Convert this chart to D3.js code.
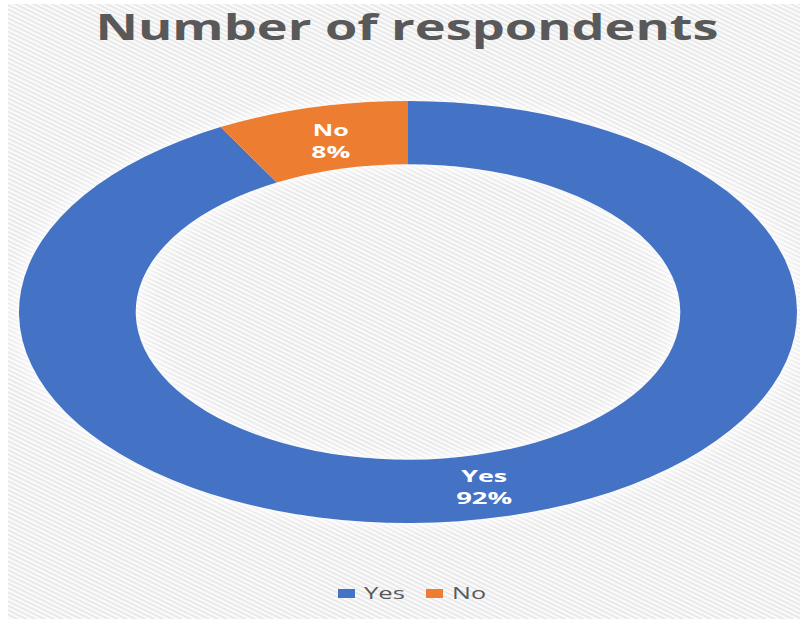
<!DOCTYPE html>
<html>
<head>
<meta charset="utf-8">
<script src="https://cdn.jsdelivr.net/npm/d3@7"></script>
<style>
  html, body { margin: 0; padding: 0; background: #ffffff; }
  svg { display: block; }
</style>
</head>
<body>
<svg id="chart" width="800" height="619"></svg>
<script>
// Survey answers
const categories = ["Yes", "No"];
const values = [92, 8];
const percentLabels = ["92%", "8%"];
const colors = ["#4472C4", "#ED7D31"];
const title = "Number of respondents";

const svg = d3.select("#chart");
const W = 800, H = 619;

// Striped chart-area background
const defs = svg.append("defs");
const pat = defs.append("pattern")
  .attr("id", "stripes")
  .attr("patternUnits", "userSpaceOnUse")
  .attr("width", 20).attr("height", 4)
  .attr("patternTransform", "rotate(26)");
pat.append("rect").attr("width", 20).attr("height", 4).attr("fill", "#fbfbfb");
pat.append("rect").attr("y", 0).attr("width", 20).attr("height", 1.7).attr("fill", "#e6e6e6");

const glow = defs.append("filter").attr("id", "glow")
  .attr("x", "-10%").attr("y", "-10%").attr("width", "120%").attr("height", "120%");
glow.append("feGaussianBlur").attr("stdDeviation", 3);

svg.append("rect")
  .attr("x", 8).attr("y", 4)
  .attr("width", W - 8).attr("height", H - 4)
  .attr("fill", "url(#stripes)");

// Title
svg.append("text")
  .attr("x", 407).attr("y", 40)
  .attr("text-anchor", "middle")
  .attr("font-family", "'Open Sans', sans-serif")
  .attr("font-weight", 700)
  .attr("font-size", 36)
  .attr("fill", "#595959")
  .attr("textLength", 623)
  .attr("lengthAdjust", "spacingAndGlyphs")
  .text(title);

// Doughnut: drawn on a unit radius, then stretched to the plot ellipse
const cx = 408, cy = 312, rx = 389, ry = 211;
const R = 100, innerRatio = 0.70;

const pie = d3.pie().sort(null).value(d => d.value);
const arcs = pie(categories.map((c, i) => ({ name: c, value: values[i], label: percentLabels[i], color: colors[i] })));
const arc = d3.arc().innerRadius(R * innerRatio).outerRadius(R);

const ring = svg.append("g")
  .attr("transform", `translate(${cx},${cy}) scale(${rx / R},${ry / R})`);

// soft light halo around the ring edges
ring.append("g").attr("filter", "url(#glow)")
  .selectAll("path").data(arcs).join("path")
  .attr("d", arc)
  .attr("fill", "#ffffff")
  .attr("stroke", "#ffffff")
  .attr("stroke-width", 2.5)
  .attr("vector-effect", "non-scaling-stroke");

ring.selectAll("path.slice").data(arcs).join("path")
  .attr("class", "slice")
  .attr("d", arc)
  .attr("fill", d => d.data.color);

// Data labels at slice centroids
const labelWidths = { Yes: [46, 56], No: [36, 39] };
const labelShift = { Yes: [-6, 0], No: [5, 2] };
const lbl = svg.append("g")
  .attr("font-family", "'Open Sans', sans-serif")
  .attr("font-weight", 700)
  .attr("font-size", 16)
  .attr("fill", "#ffffff")
  .attr("text-anchor", "middle");

arcs.forEach(d => {
  const [px, py] = arc.centroid(d);
  const s = labelShift[d.data.name];
  const x = cx + px * rx / R + s[0], y = cy + py * ry / R + s[1];
  const w = labelWidths[d.data.name];
  lbl.append("text").attr("x", x).attr("y", y - 4)
    .attr("textLength", w[0]).attr("lengthAdjust", "spacingAndGlyphs")
    .text(d.data.name);
  lbl.append("text").attr("x", x).attr("y", y + 18)
    .attr("textLength", w[1]).attr("lengthAdjust", "spacingAndGlyphs")
    .text(d.data.label);
});

// Legend
const legendX = [338, 426];
const legendTextW = [41, 34];
const legend = svg.append("g");
categories.forEach((c, i) => {
  legend.append("rect")
    .attr("x", legendX[i]).attr("y", 589)
    .attr("width", 17).attr("height", 9)
    .attr("fill", colors[i]);
  legend.append("text")
    .attr("x", legendX[i] + 26).attr("y", 599)
    .attr("font-family", "'Open Sans', sans-serif")
    .attr("font-size", 17)
    .attr("fill", "#595959")
    .attr("textLength", legendTextW[i])
    .attr("lengthAdjust", "spacingAndGlyphs")
    .text(c);
});
</script>
</body>
</html>
